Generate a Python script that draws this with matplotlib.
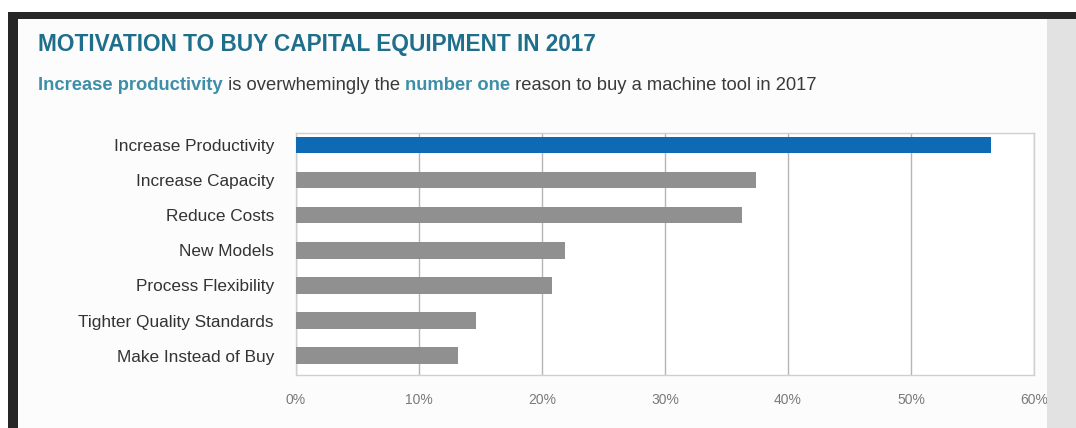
import matplotlib
matplotlib.use("Agg")
import matplotlib.pyplot as plt
from matplotlib.patches import Rectangle

categories = ["Increase Productivity", "Increase Capacity", "Reduce Costs",
              "New Models", "Process Flexibility", "Tighter Quality Standards",
              "Make Instead of Buy"]
values = [56.5, 37.4, 36.3, 21.9, 20.8, 14.6, 13.2]
xticks = [0, 10, 20, 30, 40, 50, 60]
xticklabels = ["0%", "10%", "20%", "30%", "40%", "50%", "60%"]

title = "MOTIVATION TO BUY CAPITAL EQUIPMENT IN 2017"
sub_parts = [("Increase productivity", "#3d8ea8"),
             (" is overwhemingly the ", "#3a3a3a"),
             ("number one", "#3d8ea8"),
             (" reason to buy a machine tool in 2017", "#3a3a3a")]

plt.rcParams['font.family'] = ['Liberation Sans', 'DejaVu Sans']

W, H = 1076, 428
fig = plt.figure(figsize=(W / 100, H / 100), dpi=100)
fig.patch.set_facecolor("#fcfcfc")

def px(x0, y0, w, h, color, z=0):
    fig.patches.append(Rectangle((x0 / W, 1 - (y0 + h) / H), w / W, h / H,
                                 transform=fig.transFigure, facecolor=color,
                                 edgecolor="none", zorder=z))

# frame decorations
px(0, 0, W, 12, "#ffffff")
px(0, 0, 8, H, "#ffffff")
px(8, 12, W - 8, 7, "#262626")
px(8, 12, 10, H - 12, "#262626")
px(1047, 19, W - 1047, H - 19, "#e2e2e2")

ax = fig.add_axes([296 / W, 53 / H, (1034 - 296) / W, (375 - 133) / H])
ax.set_facecolor("#ffffff")
colors = ["#0f6ab6"] + ["#909090"] * (len(values) - 1)
ypos = list(range(len(categories)))
ax.barh(ypos, values, height=0.47, color=colors, zorder=3)
ax.set_xlim(0, 60)
ax.set_ylim(6.55, -0.34)
ax.set_yticks(ypos)
ax.set_yticklabels(categories, fontsize=12.4, color="#333333")
ax.set_xticks(xticks)
ax.set_xticklabels(xticklabels, fontsize=10, color="#7a7a7a")
ax.tick_params(axis="both", length=0)
ax.tick_params(axis="y", pad=16)
ax.tick_params(axis="x", pad=13)
ax.grid(axis="x", color="#b5b5b5", linewidth=1, zorder=1)
for s in ax.spines.values():
    s.set_color("#cfcfcf")
    s.set_linewidth(1)

fig.text(38 / W, 1 - 45 / H, title, fontsize=16.3, fontweight="bold",
         color="#1f6f8c", va="center", ha="left")

# subtitle with coloured segments
renderer = fig.canvas.get_renderer()
x = 38 / W
for txt, col in sub_parts:
    t = fig.text(x, 1 - 86 / H, txt, fontsize=13.2, color=col, va="center",
                 ha="left", fontweight="bold" if col != "#3a3a3a" else "normal")
    bb = t.get_window_extent(renderer=renderer)
    x = bb.x1 / W

fig.savefig("out.png", dpi=100, facecolor=fig.get_facecolor())
